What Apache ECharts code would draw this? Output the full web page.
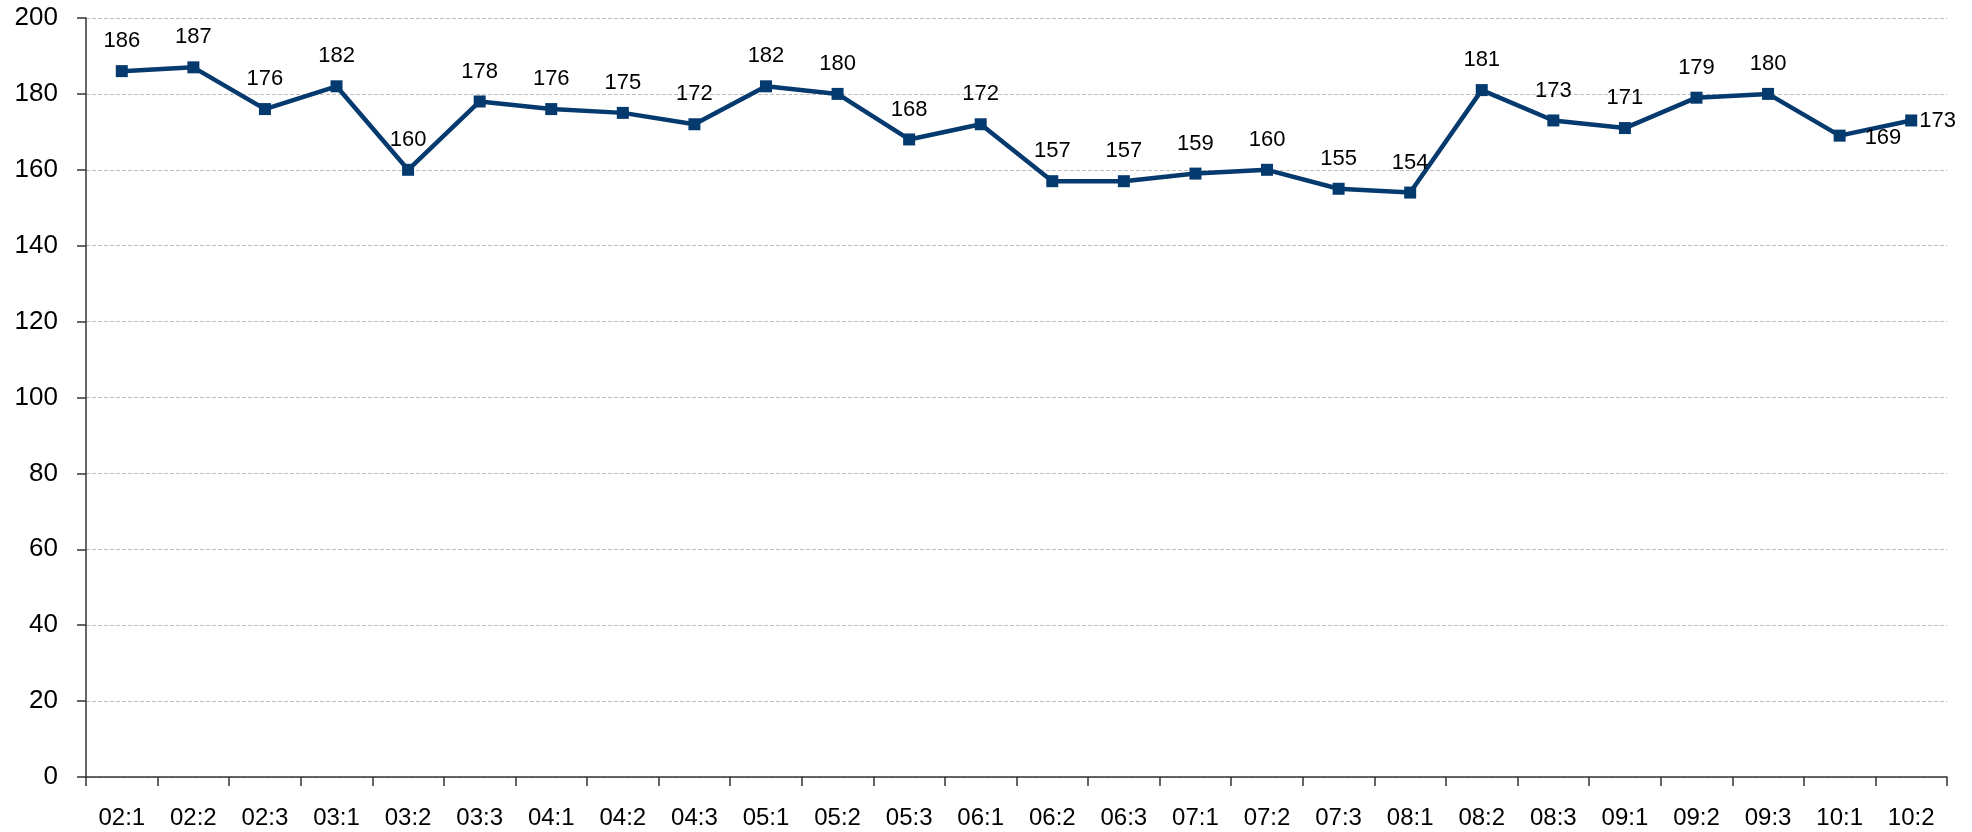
<!DOCTYPE html>
<html lang="en">

<head>
  <meta charset="UTF-8">
  <title>Line chart</title>
  <script src="https://cdn.jsdelivr.net/npm/echarts@6.0.0/dist/echarts.min.js"></script>
  <style>
    html,
    body {
      height: 100%;
      margin: 0;
      padding: 0;
      background-color: #ffffff;
    }

    #chart {
      width: 1972px;
      height: 832px;
    }
  </style>
</head>

<body>
  <div id="chart"></div>
  <script>
    const categories = ['02:1', '02:2', '02:3', '03:1', '03:2', '03:3', '04:1', '04:2', '04:3',
      '05:1', '05:2', '05:3', '06:1', '06:2', '06:3', '07:1', '07:2', '07:3', '08:1', '08:2',
      '08:3', '09:1', '09:2', '09:3', '10:1', '10:2'];
    const values = [186, 187, 176, 182, 160, 178, 176, 175, 172, 182, 180, 168, 172, 157, 157,
      159, 160, 155, 154, 181, 173, 171, 179, 180, 169, 173];
    const yTicks = [0, 20, 40, 60, 80, 100, 120, 140, 160, 180, 200];

    const lineColor = '#053a6e';
    const fontFamily = 'Liberation Sans, Arial, sans-serif';

    // last two labels sit off to the side like in the original
    const seriesData = values.map((v, i) => {
      if (i === values.length - 2) {
        return { value: v, label: { position: 'right', offset: [6, 2] } };
      }
      if (i === values.length - 1) {
        return { value: v, label: { position: 'right', distance: 2 } };
      }
      return v;
    });

    const chart = echarts.init(document.getElementById('chart'));
    chart.setOption({
      animation: false,
      grid: { left: 86, right: 25, top: 18, bottom: 55 },
      xAxis: {
        type: 'category',
        data: categories,
        boundaryGap: true,
        axisLine: { lineStyle: { color: '#333333', width: 1.5 } },
        axisTick: { show: true, length: 9, lineStyle: { color: '#333333', width: 1.5 } },
        axisLabel: { color: '#000000', fontSize: 24, fontFamily: fontFamily, margin: 29, interval: 0 },
        splitLine: { show: false }
      },
      yAxis: {
        type: 'value',
        min: yTicks[0],
        max: yTicks[yTicks.length - 1],
        interval: 20,
        axisLine: { show: true, lineStyle: { color: '#333333', width: 1.5 } },
        axisTick: { show: true, length: 9, lineStyle: { color: '#333333', width: 1.5 } },
        axisLabel: { color: '#000000', fontSize: 26, fontFamily: fontFamily, margin: 28 },
        splitLine: { show: true, lineStyle: { color: '#bdbdbd', type: 'dashed', width: 1 } }
      },
      series: [{
        type: 'line',
        data: seriesData,
        symbol: 'rect',
        symbolSize: 12,
        lineStyle: { color: lineColor, width: 4.5 },
        itemStyle: { color: lineColor },
        label: {
          show: true,
          position: 'top',
          distance: 13,
          color: '#000000',
          fontSize: 22,
          fontFamily: fontFamily
        }
      }]
    });
  </script>
</body>

</html>
